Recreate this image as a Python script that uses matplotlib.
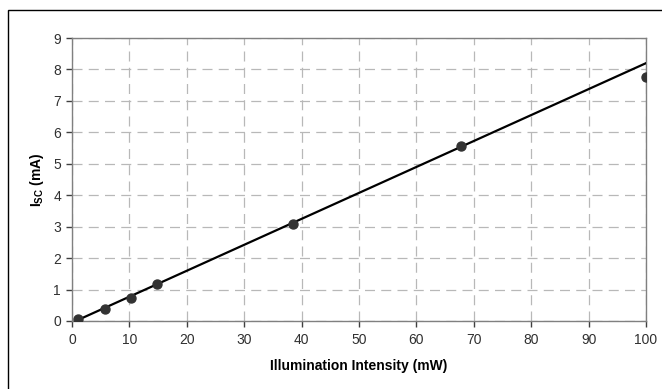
import matplotlib
matplotlib.use("Agg")
import matplotlib.pyplot as plt
from matplotlib.patches import Rectangle

plt.rcParams['font.family'] = ['Liberation Sans', 'DejaVu Sans']

# Data
intensity_mw = [1.0, 5.8, 10.3, 14.8, 38.5, 67.8, 100.0]
isc_ma = [0.05, 0.37, 0.74, 1.18, 3.10, 5.57, 7.77]
fit_x = [1.0, 100.0]
fit_y = [0.03, 8.20]
x_ticks = list(range(0, 101, 10))
y_ticks = list(range(0, 10))

W, H = 662, 389
fig = plt.figure(figsize=(W / 100, H / 100), dpi=100)
fig.patch.set_facecolor('white')

# outer chart frame (extends past right/bottom edges)
fig.patches.append(Rectangle((8 / W, -0.1), 1.2, 1 - 10 / H + 0.1,
                             transform=fig.transFigure, fill=False,
                             edgecolor='black', linewidth=1.0))

left, top, right, bottom = 72, 38, 646, 321
ax = fig.add_axes([left / W, 1 - bottom / H, (right - left) / W, (bottom - top) / H])

ax.plot(fit_x, fit_y, color='black', linewidth=1.6, zorder=3)
ax.scatter(intensity_mw, isc_ma, s=42, color='#333333', zorder=4)

ax.set_xlim(0, 100)
ax.set_ylim(0, 9)
ax.set_xticks(x_ticks)
ax.set_yticks(y_ticks)
ax.grid(True, color='#b8b8b8', linestyle=(0, (8, 5)), linewidth=0.9)
ax.set_axisbelow(True)

for s in ax.spines.values():
    s.set_color('#808080')
    s.set_linewidth(1.0)

ax.tick_params(axis='both', direction='out', length=4, width=1.0,
               color='#404040', labelsize=10, labelcolor='#303030')
ax.tick_params(axis='x', pad=5)
ax.tick_params(axis='y', pad=4)

ax.set_xlabel('Illumination Intensity (mW)', fontsize=10, fontweight='bold',
              labelpad=8)
ax.set_ylabel(r'I$_{\mathregular{SC}}$ (mA)', fontsize=10, fontweight='bold',
              labelpad=5)

fig.savefig('out.png', dpi=100, facecolor='white')
